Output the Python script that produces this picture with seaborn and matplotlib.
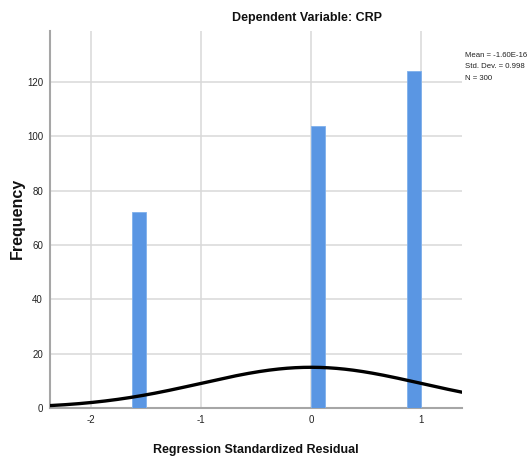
"""SPSS-style histogram of regression standardized residuals."""

import numpy as np
import matplotlib
matplotlib.use("Agg")
import matplotlib.pyplot as plt
import seaborn as sns

# Data
residual_bins = [-1.563, 0.0625, 0.9375]   # bin centres
frequency = [72, 104, 124]
bin_width = 0.125
resid_mean = -1.60e-16
resid_sd = 0.998
n_obs = 300

x_ticks = [-2, -1, 0, 1]
y_ticks = [0, 20, 40, 60, 80, 100, 120]

sns.set_style("white")
plt.rcParams['font.family'] = ['Liberation Sans', 'DejaVu Sans']

W, H = 532, 470
fig = plt.figure(figsize=(W / 100, H / 100), dpi=100)
ax = fig.add_axes([50 / W, 1 - 408 / H, 412 / W, 377 / H])

# bin edges around each centre, empty gaps in between
edges = sorted(set(np.round(np.concatenate([np.array(residual_bins) - bin_width / 2,
                                            np.array(residual_bins) + bin_width / 2]), 4)))
sns.histplot(x=residual_bins, weights=frequency, bins=edges, ax=ax,
             color='#5A96E3', edgecolor='#7FB0EC', linewidth=0.6, alpha=1.0, zorder=3)

# fitted normal curve (SPSS overlay)
xs = np.linspace(-2.373, 1.373, 300)
ys = n_obs * bin_width * np.exp(-0.5 * ((xs - resid_mean) / resid_sd) ** 2) / (resid_sd * np.sqrt(2 * np.pi))
sns.lineplot(x=xs, y=ys, ax=ax, color='black', linewidth=2.4, zorder=4)

ax.set_xlim(-2.373, 1.373)
ax.set_ylim(0, 138.8)
ax.set_xticks(x_ticks)
ax.set_yticks(y_ticks)
ax.set_xticklabels([str(t) for t in x_ticks])
ax.set_yticklabels([str(t) for t in y_ticks])
ax.tick_params(axis='both', length=0, labelsize=7, colors='#222222', pad=5)
ax.grid(True, color='#d9d9d9', linewidth=1.1, zorder=0)
ax.set_axisbelow(True)
for side in ['top', 'right']:
    ax.spines[side].set_visible(False)
for side in ['left', 'bottom']:
    ax.spines[side].set_color('#a6a6a6')
    ax.spines[side].set_linewidth(1.5)
ax.set_xlabel('')
ax.set_ylabel('')

fig.text(307 / W, 1 - 18 / H, 'Dependent Variable: CRP', ha='center', va='center',
         fontsize=9, fontweight='bold', color='#111111')
fig.text(256 / W, 1 - 450 / H, 'Regression Standardized Residual', ha='center', va='center',
         fontsize=9, fontweight='bold', color='#111111')
fig.text(17 / W, 1 - 218 / H, 'Frequency', ha='center', va='center', rotation=90,
         fontsize=11.5, fontweight='bold', color='#111111')
fig.text(465 / W, 1 - 52 / H,
         f'Mean = -1.60E-16\nStd. Dev. = {resid_sd}\nN = {n_obs}',
         ha='left', va='top', fontsize=5.6, linespacing=1.9, color='#222222')

fig.savefig('out.png', dpi=100)
